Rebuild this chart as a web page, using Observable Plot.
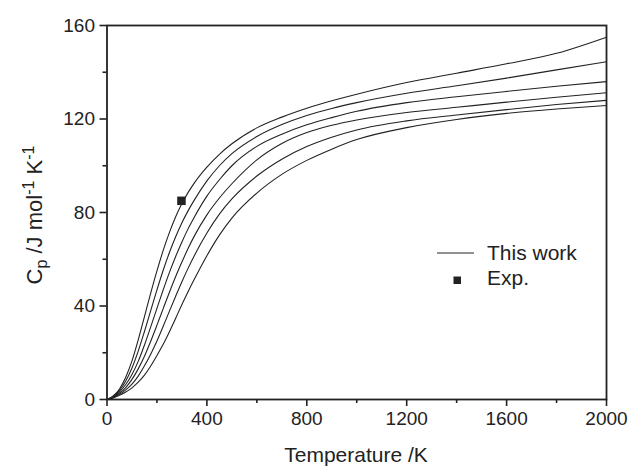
<!DOCTYPE html>
<html>
<head>
<meta charset="utf-8">
<script src="https://cdn.jsdelivr.net/npm/d3@7"></script>
<script src="https://cdn.jsdelivr.net/npm/@observablehq/plot@0.6"></script>
<style>
  html, body { margin: 0; padding: 0; background: #fff; }
  #chart { width: 630px; height: 466px; }
</style>
</head>
<body>
<div id="chart"></div>
<script>
// Temperature grid (K)
const temperature = [0, 25, 50, 75, 100, 125, 150, 175, 200, 225, 250, 275, 300, 325, 350, 400, 450, 500, 600, 700, 800, 900, 1000, 1200, 1400, 1600, 1800, 2000];
// Cp curves (J mol-1 K-1), "This work", top to bottom
const curve1 = [0, 1.5, 4.5, 9.5, 16.5, 25.5, 35.5, 45.5, 55, 63.8, 71.5, 78.2, 83.8, 88.6, 92.7, 99.4, 104.9, 109.4, 116.2, 120.8, 124.6, 127.8, 130.6, 135.6, 139.6, 143.6, 148.1, 155];
const curve2 = [0, 1.3, 3.9, 7.9, 13.5, 20.7, 29.1, 38, 46.9, 55.3, 62.9, 69.6, 75.6, 80.8, 85.4, 93.5, 100, 105.2, 112.5, 117.6, 121.5, 124.5, 127, 131, 134.2, 137.5, 141, 144.5];
const curve3 = [0, 1.2, 3.3, 6.4, 10.7, 16.3, 23.3, 31.1, 39, 46.9, 54.4, 61.2, 67.4, 73.1, 78.1, 87, 94, 100, 108.3, 113.5, 117.5, 120.6, 123.3, 127, 129.5, 131.8, 134, 136];
const curve4 = [0, 1.05, 2.7, 5.1, 8.6, 13.1, 18.5, 24.9, 31.8, 38.9, 45.9, 52.6, 58.8, 64.7, 70, 79, 86.2, 92.3, 102.5, 109.5, 114.2, 117.3, 119.6, 122.8, 125, 127.2, 129.3, 131.2];
const curve5 = [0, 0.9, 2.2, 4.1, 6.6, 10, 14.4, 19.4, 25, 31.3, 37.8, 44.2, 50.4, 56.2, 61.6, 71.2, 79.3, 85.8, 95.6, 102.8, 108.2, 112.2, 115.3, 119.2, 121.7, 124, 126.2, 128];
const curve6 = [0, 0.7, 1.8, 3.2, 5, 7.4, 10.4, 14.3, 18.8, 23.6, 29, 34.8, 40.6, 46.2, 51.5, 61.5, 70.3, 77.6, 88.3, 96.3, 102.3, 107.1, 111.2, 116.3, 119.8, 122.4, 124.3, 125.8];
// Experimental point
const expT = [298.15];
const expCp = [85];
// Tick values
const xMajor = [0, 400, 800, 1200, 1600, 2000];
const xMinor = [200, 600, 1000, 1400, 1800];
const yMajor = [0, 40, 80, 120, 160];
const yMinor = [20, 60, 100, 140];

const curves = [curve1, curve2, curve3, curve4, curve5, curve6];
const lineData = curves.flatMap((c, k) => temperature.map((t, i) => ({T: t, Cp: c[i], curve: k})));
const expData = expT.map((t, i) => ({T: t, Cp: expCp[i]}));

const ink = "#222";
const fmt = d => String(d);
const plot = Plot.plot({
  width: 630,
  height: 466,
  marginLeft: 106.5,
  marginRight: 24,
  marginTop: 25,
  marginBottom: 67,
  style: {fontFamily: "'Liberation Sans', Arial, Helvetica, sans-serif", fontSize: "19px", color: ink, background: "#fff"},
  x: {domain: [0, 2000]},
  y: {domain: [0, 160]},
  marks: [
    Plot.line(lineData, {x: "T", y: "Cp", z: "curve", stroke: ink, strokeWidth: 1.1, curve: "monotone-x"}),
    Plot.dot(expData, {x: "T", y: "Cp", symbol: "square", r: 4.8, fill: ink, stroke: null}),
    Plot.axisX({ticks: xMajor, tickFormat: fmt, tickSize: 7, tickPadding: 5, label: null, strokeWidth: 1.6, fontSize: 19}),
    Plot.axisX({ticks: xMinor, tickSize: 4, text: null, label: null, strokeWidth: 1.6}),
    Plot.axisY({ticks: yMajor, tickFormat: fmt, tickSize: 7, tickPadding: 5, label: null, strokeWidth: 1.6, fontSize: 19}),
    Plot.axisY({ticks: yMinor, tickSize: 4, text: null, label: null, strokeWidth: 1.6}),
    Plot.frame({stroke: ink, strokeWidth: 1.8})
  ]
});
document.getElementById("chart").appendChild(plot);

const svg = d3.select(plot);
const font = "'Liberation Sans', Arial, Helvetica, sans-serif";

// X axis title
svg.append("text")
  .attr("x", 356).attr("y", 462)
  .attr("text-anchor", "middle")
  .attr("font-family", font).attr("font-size", 21).attr("fill", ink)
  .text("Temperature /K");

// Y axis title with sub/superscripts
const yl = svg.append("text")
  .attr("transform", "translate(42,215) rotate(-90)")
  .attr("text-anchor", "middle")
  .attr("font-family", font).attr("font-size", 22).attr("fill", ink);
yl.append("tspan").text("C");
yl.append("tspan").attr("font-size", 16).attr("baseline-shift", "-5").text("p");
yl.append("tspan").text(" /J mol");
yl.append("tspan").attr("font-size", 16).attr("baseline-shift", "8").text("-1");
yl.append("tspan").text(" K");
yl.append("tspan").attr("font-size", 16).attr("baseline-shift", "8").text("-1");

// Legend
const lg = svg.append("g").attr("font-family", font).attr("font-size", 21).attr("fill", ink).attr("text-anchor", "start");
lg.append("line").attr("x1", 437).attr("x2", 474).attr("y1", 253).attr("y2", 253)
  .attr("stroke", ink).attr("stroke-width", 1.1);
lg.append("text").attr("x", 487).attr("y", 260).attr("text-anchor", "start").text("This work");
lg.append("rect").attr("x", 453.5).attr("y", 276.5).attr("width", 7.5).attr("height", 7.5).attr("fill", ink);
lg.append("text").attr("x", 487).attr("y", 285).attr("text-anchor", "start").text("Exp.");
</script>
</body>
</html>
